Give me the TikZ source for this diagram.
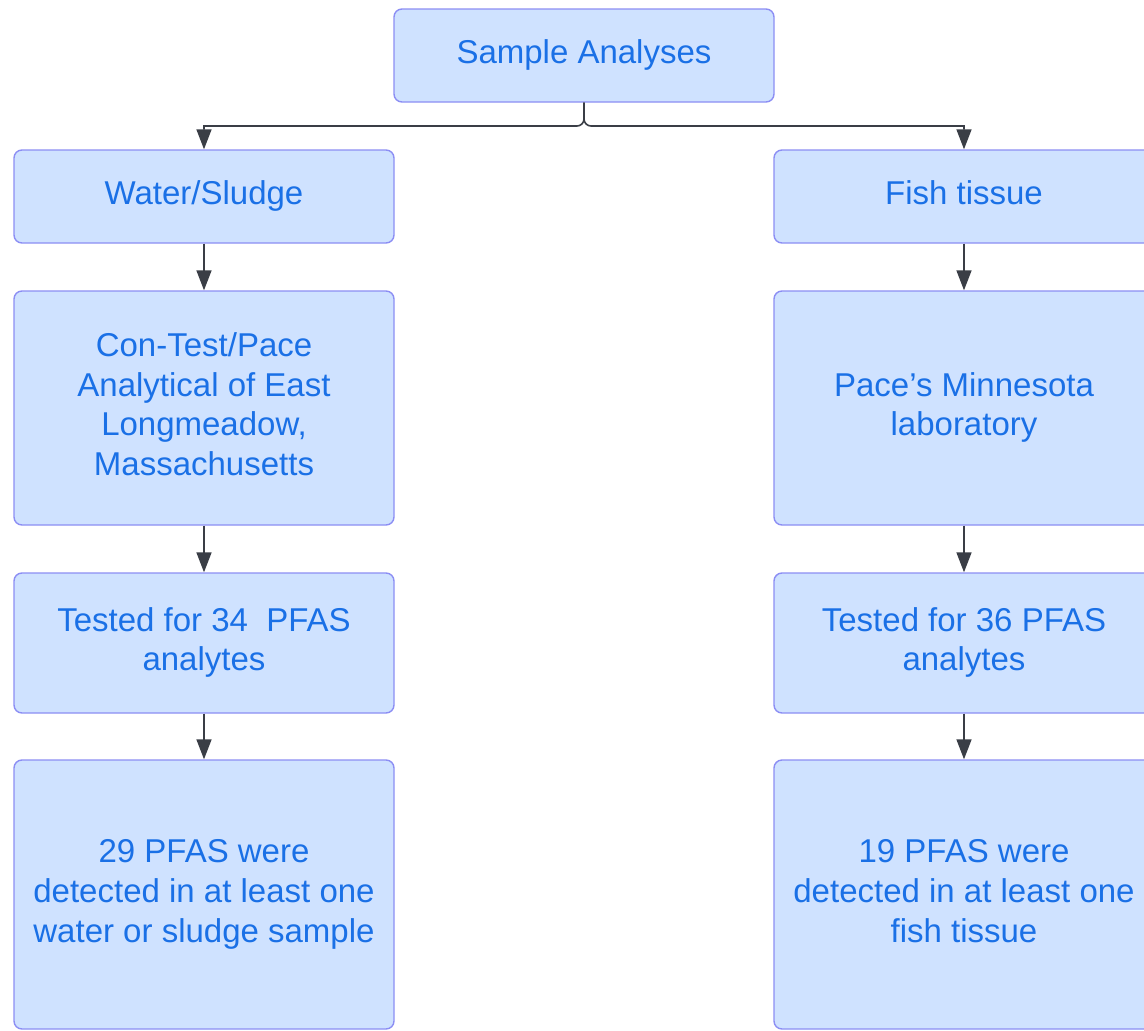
\documentclass[tikz,border=0pt]{standalone}
\usepackage{fontspec}
\setmainfont{Liberation Sans}
\usetikzlibrary{arrows.meta}
\definecolor{boxfill}{HTML}{CFE2FF}
\definecolor{boxline}{HTML}{8C8EF4}
\definecolor{boxtext}{HTML}{1A70E6}
\definecolor{wire}{HTML}{3A3E46}
% centred lines of box text, set a little below the geometric centre
\newcommand\cardlines[1]{\raisebox{-3.5pt}{\begin{tabular}{@{}c@{}}#1\end{tabular}}}
\tikzset{
  card/.style={draw=boxline, fill=boxfill, line width=1.4pt, rounded corners=8pt,
    text=boxtext, minimum width=380pt, inner sep=0pt,
    font=\fontsize{33}{39.6}\selectfont},
  flow/.style={draw=wire, line width=1.6pt, -{Triangle[length=20pt,width=15pt]}},
}
\begin{document}
\begin{tikzpicture}[x=1pt,y=-1pt]
\clip (0,0) rectangle (1144,1031);
\fill[white] (0,0) rectangle (1144,1031);

% top box
\node[card, minimum height=93pt] (top) at (584,55.5) {\cardlines{Sample Analyses}};

% left column
\node[card, minimum height=93pt]  (ws)  at (204,196.5) {\cardlines{Water/Sludge}};
\node[card, minimum height=234pt] (lab1) at (204,408) {\cardlines{Con-Test/Pace\\Analytical of East\\Longmeadow,\\Massachusetts}};
\node[card, minimum height=140pt] (t1)  at (204,643) {\cardlines{Tested for 34\ \ PFAS\\analytes}};
\node[card, minimum height=269pt] (r1)  at (204,894.5) {\cardlines{29 PFAS were\\detected in at least one\\water or sludge sample}};

% right column
\node[card, minimum height=93pt]  (ft)  at (964,196.5) {\cardlines{Fish tissue}};
\node[card, minimum height=234pt] (lab2) at (964,408) {\cardlines{Pace’s Minnesota\\laboratory}};
\node[card, minimum height=140pt] (t2)  at (964,643) {\cardlines{Tested for 36 PFAS\\analytes}};
\node[card, minimum height=269pt] (r2)  at (964,894.5) {\cardlines{19 PFAS were\\detected in at least one\\fish tissue}};

% branching connector: rounded only where it leaves the top box
\coordinate (j) at (584,126);
\draw[flow] (top.south) [rounded corners=7pt] |- ([xshift=-20pt]j) [sharp corners] -- (ws.north |- j) -- (ws.north);
\draw[flow] (top.south) [rounded corners=7pt] |- ([xshift=20pt]j) [sharp corners] -- (ft.north |- j) -- (ft.north);

% column connectors
\draw[flow] (ws.south) -- (lab1.north);
\draw[flow] (lab1.south) -- (t1.north);
\draw[flow] (t1.south) -- (r1.north);
\draw[flow] (ft.south) -- (lab2.north);
\draw[flow] (lab2.south) -- (t2.north);
\draw[flow] (t2.south) -- (r2.north);
\end{tikzpicture}
\end{document}
